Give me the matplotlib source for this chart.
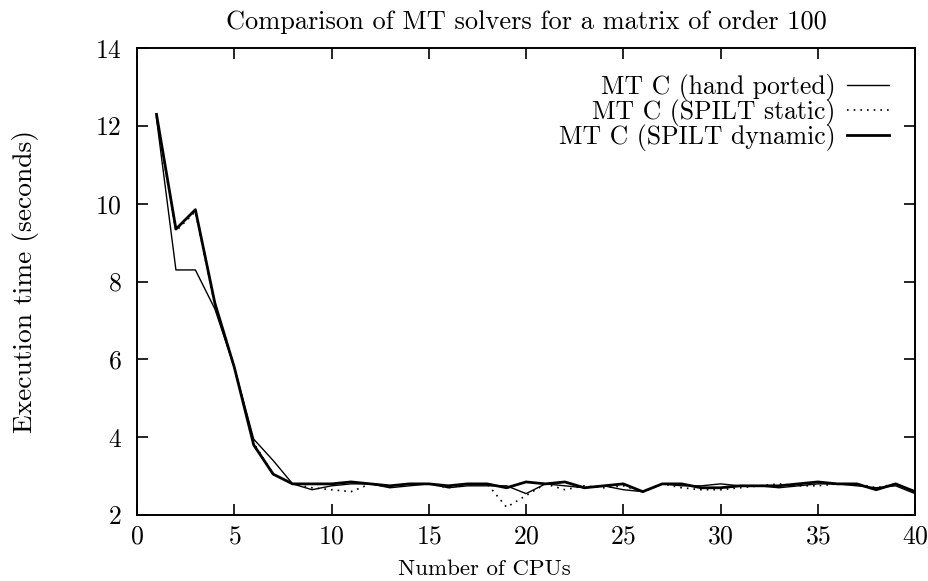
import matplotlib
matplotlib.use('Agg')
import matplotlib.pyplot as plt

# execution time (seconds) per number of CPUs
cpus = list(range(1, 41))
hand_ported = [12.2, 8.3, 8.3, 7.3, 5.8, 3.95, 3.4, 2.8, 2.65, 2.75,
               2.8, 2.8, 2.7, 2.75, 2.8, 2.7, 2.75, 2.75, 2.75, 2.55,
               2.8, 2.75, 2.7, 2.75, 2.65, 2.6, 2.8, 2.75, 2.75, 2.8,
               2.75, 2.75, 2.7, 2.75, 2.8, 2.8, 2.75, 2.7, 2.75, 2.55]
spilt_static = [12.25, 9.3, 9.8, 7.4, 5.8, 3.85, 3.05, 2.8, 2.7, 2.65,
                2.6, 2.8, 2.75, 2.8, 2.8, 2.7, 2.8, 2.8, 2.2, 2.5,
                2.8, 2.65, 2.75, 2.7, 2.75, 2.6, 2.8, 2.7, 2.65, 2.65,
                2.7, 2.75, 2.8, 2.75, 2.75, 2.8, 2.8, 2.7, 2.8, 2.6]
spilt_dynamic = [12.3, 9.35, 9.85, 7.45, 5.8, 3.8, 3.05, 2.8, 2.8, 2.8,
                 2.85, 2.8, 2.75, 2.8, 2.8, 2.75, 2.8, 2.8, 2.7, 2.85,
                 2.8, 2.85, 2.7, 2.75, 2.8, 2.6, 2.8, 2.8, 2.7, 2.7,
                 2.75, 2.75, 2.75, 2.8, 2.85, 2.8, 2.8, 2.65, 2.8, 2.6]

# gnuplot / latex look
plt.rcParams['font.family'] = ['cmr10', 'DejaVu Serif']
plt.rcParams['axes.formatter.use_mathtext'] = True
plt.rcParams['font.size'] = 18

fig = plt.figure(figsize=(9.29, 5.81), dpi=100)
ax = fig.add_axes([0.1475, 0.1136, 0.8375, 0.8034])

ax.plot(cpus, hand_ported, color='k', linewidth=1.0, label='MT C (hand ported)')
ax.plot(cpus, spilt_static, color='k', linewidth=1.2, linestyle=(0, (1, 3)), label='MT C (SPILT static)')
ax.plot(cpus, spilt_dynamic, color='k', linewidth=2.0, label='MT C (SPILT dynamic)')

ax.set_xlim(0, 40)
ax.set_ylim(2, 14)
ax.set_xticks(range(0, 41, 5))
ax.set_yticks(range(2, 15, 2))
ax.tick_params(direction='in', length=8, width=1.2, top=True, right=True, labelsize=18.5)
ax.tick_params(axis='y', pad=11)
ax.tick_params(axis='x', pad=7)
for s in ax.spines.values():
    s.set_linewidth(1.4)

ax.set_title('Comparison of MT solvers for a matrix of order 100', fontsize=19, pad=14)
ax.set_xlabel('Number of CPUs', fontsize=16.5)
ax.xaxis.set_label_coords(0.446, -0.095)
ax.set_ylabel('Execution time (seconds)', fontsize=19.8, labelpad=40)

ax.legend(loc='upper right', frameon=False, markerfirst=False, fontsize=18.5,
          handlelength=1.65, labelspacing=-0.08, borderaxespad=0.6, handletextpad=0.45)

plt.savefig('out.png', dpi=100)
